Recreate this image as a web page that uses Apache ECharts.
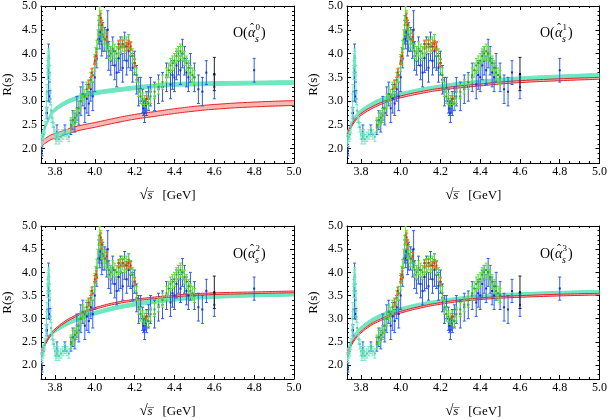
<!DOCTYPE html>
<html>
<head>
<meta charset="utf-8">
<script src="https://cdn.jsdelivr.net/npm/echarts@6/dist/echarts.min.js"></script>
<style>
  html, body { margin: 0; background: #fff; }
  #chart { width: 610px; height: 420px; }
</style>
</head>
<body>
<div id="chart"></div>
<script>
// measured R(s) points: x = sqrt(s) [GeV], y = R, err = half error bar
var blueX = [3.735, 3.760, 3.768, 3.775, 3.810, 3.850, 3.880, 3.890, 3.900, 3.910, 3.920, 3.930, 3.940, 3.950, 3.960, 3.970, 3.980, 3.990,
  4.000, 4.010, 4.020, 4.025, 4.030, 4.035, 4.040, 4.050, 4.060, 4.065, 4.070, 4.080, 4.090, 4.100, 4.110, 4.120, 4.130, 4.140,
  4.150, 4.160, 4.170, 4.180, 4.190, 4.200, 4.210, 4.220, 4.230, 4.240, 4.245, 4.250, 4.255, 4.260, 4.270, 4.280, 4.300, 4.320,
  4.340, 4.360, 4.380, 4.390, 4.400, 4.410, 4.420, 4.430, 4.440, 4.450, 4.460, 4.470, 4.480, 4.500, 4.520, 4.540, 4.560, 4.600, 4.800];
var blueY = [1.95, 2.75, 3.6, 3.1, 2.35, 2.4, 2.45, 2.6, 2.55, 2.85, 2.75, 3.0, 3.15, 2.85, 3.05, 2.95, 3.25, 3.1,
  3.5, 3.9, 4.45, 4.3, 4.45, 4.2, 4.35, 4.3, 4.2, 4.5, 3.95, 3.85, 4.05, 3.75, 3.6, 3.9, 4.0, 3.7,
  4.15, 3.85, 4.05, 3.95, 3.7, 3.8, 3.45, 3.2, 3.25, 3.0, 2.85, 2.75, 2.9, 2.95, 3.05, 3.2, 3.1, 3.25,
  3.3, 3.5, 3.35, 3.55, 3.5, 3.75, 3.85, 3.65, 4.0, 3.85, 3.6, 3.5, 3.7, 3.5, 3.25, 3.2, 3.6, 3.3, 3.65];
var blueErr = [0.1, 0.12, 0.6, 0.12, 0.15, 0.1, 0.15, 0.2, 0.2, 0.25, 0.25, 0.3, 0.25, 0.3, 0.3, 0.25, 0.25, 0.3,
  0.3, 0.2, 0.25, 0.2, 0.2, 0.25, 0.3, 0.25, 0.3, 0.4, 0.3, 0.3, 0.3, 0.3, 0.3, 0.3, 0.35, 0.3,
  0.3, 0.3, 0.35, 0.3, 0.3, 0.25, 0.3, 0.3, 0.25, 0.25, 0.15, 0.2, 0.15, 0.25, 0.25, 0.3, 0.3, 0.3,
  0.3, 0.3, 0.3, 0.3, 0.3, 0.3, 0.3, 0.3, 0.3, 0.3, 0.3, 0.3, 0.3, 0.3, 0.3, 0.3, 0.25, 0.25, 0.25];

var greenX = [3.880, 3.890, 3.900, 3.910, 3.920, 3.930, 3.940, 3.950, 3.960, 3.970, 3.980, 3.990,
  4.000, 4.005, 4.010, 4.015, 4.020, 4.025, 4.030, 4.035, 4.040,
  4.050, 4.060, 4.070, 4.080, 4.090, 4.100, 4.110, 4.120, 4.130, 4.140, 4.150, 4.160, 4.170, 4.180, 4.190, 4.200,
  4.210, 4.220, 4.230, 4.240, 4.250, 4.260, 4.270, 4.280,
  4.300, 4.320, 4.340, 4.360,
  4.370, 4.380, 4.390, 4.400, 4.410, 4.420, 4.430, 4.440, 4.450, 4.460, 4.470, 4.480, 4.490, 4.500];
var greenY = [2.5, 2.6, 2.65, 2.7, 2.85, 3.0, 3.15, 3.1, 3.25, 3.3, 3.45, 3.55,
  3.8, 3.95, 4.1, 4.3, 4.6, 4.8, 4.7, 4.5, 4.4,
  4.3, 4.25, 4.05, 4.0, 4.1, 4.05, 4.0, 4.1, 4.15, 4.2, 4.15, 4.2, 4.25, 4.1, 3.95, 3.75,
  3.55, 3.25, 3.1, 3.05, 3.0, 3.05, 2.95, 3.1,
  3.2, 3.3, 3.4, 3.55,
  3.65, 3.75, 3.8, 3.85, 3.95, 4.0, 4.05, 4.0, 3.9, 3.8, 3.7, 3.6, 3.55, 3.5];
var greenErr = [0.15, 0.15, 0.15, 0.15, 0.15, 0.15, 0.15, 0.15, 0.15, 0.15, 0.15, 0.15,
  0.18, 0.18, 0.18, 0.2, 0.2, 0.2, 0.2, 0.2, 0.2,
  0.18, 0.18, 0.15, 0.15, 0.15, 0.15, 0.15, 0.15, 0.15, 0.15, 0.15, 0.15, 0.15, 0.15, 0.15, 0.15,
  0.15, 0.15, 0.15, 0.12, 0.12, 0.12, 0.12, 0.15,
  0.15, 0.15, 0.15, 0.15,
  0.15, 0.15, 0.15, 0.15, 0.15, 0.15, 0.15, 0.15, 0.15, 0.15, 0.15, 0.15, 0.15, 0.15];

var orangeX = [3.970, 3.985, 4.000, 4.008, 4.030, 4.035, 4.060, 4.120, 4.140, 4.160, 4.170, 4.180, 4.200, 4.260];
var orangeY = [3.35, 3.6, 3.85, 3.95, 4.75, 4.6, 4.35, 4.2, 4.2, 4.15, 4.2, 4.15, 3.8, 3.05];
var orangeErr = [0.08, 0.08, 0.08, 0.08, 0.1, 0.1, 0.08, 0.08, 0.08, 0.08, 0.08, 0.08, 0.08, 0.06];

var cyanX = [3.730, 3.735, 3.740, 3.745, 3.750, 3.755, 3.758, 3.760, 3.763, 3.764, 3.766, 3.767, 3.769, 3.770, 3.772,
  3.774, 3.775, 3.778, 3.781, 3.785, 3.790, 3.795, 3.800, 3.805, 3.810, 3.815, 3.820, 3.830, 3.840, 3.850, 3.860, 3.870];
var cyanY = [2.15, 2.2, 2.25, 2.3, 2.45, 2.75, 3.0, 3.2, 3.6, 3.7, 3.85, 3.9, 3.95, 3.9, 3.75,
  3.6, 3.4, 3.05, 2.8, 2.65, 2.55, 2.45, 2.3, 2.2, 2.25, 2.3, 2.2, 2.25, 2.3, 2.35, 2.3, 2.25];
var cyanErr = [0.1, 0.1, 0.1, 0.1, 0.12, 0.12, 0.15, 0.15, 0.15, 0.15, 0.15, 0.15, 0.15, 0.15, 0.15,
  0.15, 0.15, 0.12, 0.12, 0.1, 0.1, 0.1, 0.1, 0.1, 0.1, 0.1, 0.1, 0.1, 0.1, 0.1, 0.1, 0.1];

var blackX = [4.600];
var blackY = [3.57];
var blackErr = [0.35];

// theory bands, one per order of alpha_s (center values, half widths)
var curveX = [3.73, 3.74, 3.76, 3.78, 3.80, 3.85, 3.90, 3.95, 4.00, 4.10, 4.20, 4.30, 4.40, 4.50, 4.60, 4.80, 5.00];
var redMid = [
  [2.09, 2.13, 2.19, 2.24, 2.27, 2.34, 2.41, 2.46, 2.50, 2.59, 2.67, 2.73, 2.79, 2.84, 2.88, 2.93, 2.96],
  [2.28, 2.38, 2.53, 2.64, 2.72, 2.85, 2.95, 3.03, 3.09, 3.18, 3.25, 3.30, 3.34, 3.38, 3.41, 3.45, 3.48],
  [2.25, 2.35, 2.52, 2.66, 2.76, 2.93, 3.05, 3.15, 3.22, 3.33, 3.40, 3.45, 3.49, 3.52, 3.54, 3.56, 3.58],
  [2.25, 2.34, 2.50, 2.62, 2.71, 2.87, 2.98, 3.07, 3.14, 3.25, 3.33, 3.39, 3.43, 3.46, 3.48, 3.51, 3.53]
];
var redHalf = [0.05, 0.02, 0.018, 0.018];
var cyanMid = [
  [2.22, 2.35, 2.55, 2.72, 2.82, 2.96, 3.05, 3.12, 3.17, 3.23, 3.28, 3.32, 3.35, 3.36, 3.37, 3.38, 3.39],
  [2.30, 2.40, 2.58, 2.70, 2.78, 2.92, 3.02, 3.09, 3.14, 3.23, 3.30, 3.36, 3.40, 3.44, 3.47, 3.51, 3.54],
  [2.28, 2.38, 2.55, 2.66, 2.74, 2.87, 2.97, 3.05, 3.12, 3.23, 3.31, 3.37, 3.42, 3.46, 3.48, 3.51, 3.53],
  [2.28, 2.38, 2.58, 2.70, 2.79, 2.95, 3.06, 3.14, 3.20, 3.30, 3.37, 3.43, 3.47, 3.50, 3.52, 3.55, 3.57]
];
var cyanHalf = [0.04, 0.04, 0.04, 0.04];
var orders = ['0', '1', '2', '3'];

var serif = 'Liberation Serif';
var grids = [
  { left: 40, top: 5, width: 254, height: 158 },
  { left: 347, top: 5, width: 255, height: 158 },
  { left: 40, top: 226, width: 254, height: 158 },
  { left: 347, top: 226, width: 255, height: 158 }
];

function errorSeries(p, xs, ys, es, color, dot, z) {
  var rows = xs.map(function (x, i) { return [x, ys[i], es[i]]; });
  return {
    type: 'custom', xAxisIndex: 2 * p, yAxisIndex: 2 * p, z: z, silent: true,
    data: rows,
    renderItem: function (params, api) {
      var c = api.coord([api.value(0), api.value(1)]);
      var t = api.coord([api.value(0), api.value(1) + api.value(2)]);
      var b = api.coord([api.value(0), api.value(1) - api.value(2)]);
      var cs = params.coordSys;
      var st = { stroke: color, lineWidth: 1 };
      return {
        type: 'group',
        clipPath: { type: 'rect', shape: { x: cs.x, y: cs.y, width: cs.width, height: cs.height } },
        children: [
          { type: 'line', shape: { x1: c[0], y1: t[1], x2: c[0], y2: b[1] }, style: st },
          { type: 'line', shape: { x1: c[0] - 1.5, y1: t[1], x2: c[0] + 1.5, y2: t[1] }, style: st },
          { type: 'line', shape: { x1: c[0] - 1.5, y1: b[1], x2: c[0] + 1.5, y2: b[1] }, style: st },
          { type: 'rect', shape: { x: c[0] - 1, y: c[1] - 1, width: 2, height: 2 }, style: { fill: dot } }
        ]
      };
    }
  };
}

// filled band between mid-half and mid+half, plus its two edge lines
function bandSeries(p, mid, half, edge, fill, z) {
  var lower = curveX.map(function (x, i) { return [x, mid[i] - half]; });
  var upper = curveX.map(function (x, i) { return [x, mid[i] + half]; });
  var fillSeries = {
    type: 'custom', xAxisIndex: 2 * p, yAxisIndex: 2 * p, z: z, silent: true,
    data: [[curveX[0], mid[0]]],
    renderItem: function (params, api) {
      var pts = upper.map(function (d) { return api.coord(d); });
      var low = lower.map(function (d) { return api.coord(d); }).reverse();
      var cs = params.coordSys;
      return {
        type: 'polygon',
        clipPath: { type: 'rect', shape: { x: cs.x, y: cs.y, width: cs.width, height: cs.height } },
        shape: { points: pts.concat(low), smooth: 0.25 },
        style: { fill: fill }
      };
    }
  };
  var common = {
    type: 'line', xAxisIndex: 2 * p, yAxisIndex: 2 * p, smooth: true,
    showSymbol: false, silent: true, z: z, lineStyle: { color: edge, width: 1 }
  };
  return [
    fillSeries,
    Object.assign({}, common, { data: lower }),
    Object.assign({}, common, { data: upper })
  ];
}

var xAxis = [], yAxis = [], series = [], graphic = [];

grids.forEach(function (g, p) {
  xAxis.push({
    type: 'value', gridIndex: p, min: 3.73, max: 5.0, splitNumber: 6, position: 'bottom',
    axisLine: { onZero: false, lineStyle: { color: '#000', width: 1 } },
    axisTick: { inside: true, length: 4, lineStyle: { color: '#000' } },
    minorTick: { show: true, splitNumber: 4, length: 2, lineStyle: { color: '#000' } },
    splitLine: { show: false },
    axisLabel: { showMinLabel: false, color: '#000', fontFamily: serif, fontSize: 12, margin: 3,
      formatter: function (v) { return v.toFixed(1); } },
    name: '{sq|√}{s|s\u0305}   [GeV]', nameLocation: 'middle', nameGap: 25,
    nameTextStyle: { color: '#000', fontFamily: serif, fontSize: 13,
      rich: { sq: { fontFamily: serif, fontSize: 15 }, s: { fontFamily: serif, fontStyle: 'italic', fontSize: 13 } } }
  });
  xAxis.push({
    type: 'value', gridIndex: p, min: 3.73, max: 5.0, splitNumber: 6, position: 'top',
    axisLine: { onZero: false, lineStyle: { color: '#000', width: 1 } },
    axisTick: { inside: true, length: 4, lineStyle: { color: '#000' } },
    minorTick: { show: true, splitNumber: 4, length: 2, lineStyle: { color: '#000' } },
    splitLine: { show: false }, axisLabel: { show: false }
  });
  yAxis.push({
    type: 'value', gridIndex: p, min: 1.7, max: 5.0, splitNumber: 7, position: 'left',
    axisLine: { onZero: false, lineStyle: { color: '#000', width: 1 } },
    axisTick: { inside: true, length: 4, lineStyle: { color: '#000' } },
    minorTick: { show: true, splitNumber: 5, length: 2, lineStyle: { color: '#000' } },
    splitLine: { show: false },
    axisLabel: { showMinLabel: false, color: '#000', fontFamily: serif, fontSize: 12, margin: 4,
      formatter: function (v) { return v.toFixed(1); } },
    name: 'R(s)', nameLocation: 'middle', nameGap: 27,
    nameTextStyle: { color: '#000', fontFamily: serif, fontSize: 13 }
  });
  yAxis.push({
    type: 'value', gridIndex: p, min: 1.7, max: 5.0, splitNumber: 7, position: 'right',
    axisLine: { onZero: false, lineStyle: { color: '#000', width: 1 } },
    axisTick: { inside: true, length: 4, lineStyle: { color: '#000' } },
    minorTick: { show: true, splitNumber: 5, length: 2, lineStyle: { color: '#000' } },
    splitLine: { show: false }, axisLabel: { show: false }
  });

  series = series.concat(bandSeries(p, cyanMid[p], cyanHalf[p], '#6be6bd', '#6de8bf', 1));
  series = series.concat(bandSeries(p, redMid[p], redHalf[p], '#e3242b', '#f7b8b3', 2));
  series.push(errorSeries(p, blueX, blueY, blueErr, '#2f5cf0', '#1a2fb8', 3));
  series.push(errorSeries(p, cyanX, cyanY, cyanErr, '#74e8c6', '#4fcfa8', 4));
  series.push(errorSeries(p, greenX, greenY, greenErr, '#5ee23a', '#2fa81c', 5));
  series.push(errorSeries(p, orangeX, orangeY, orangeErr, '#f0661e', '#c8400c', 6));
  series.push(errorSeries(p, blackX, blackY, blackErr, '#222', '#000', 7));

  graphic.push({
    type: 'group', x: g.left + 193, y: g.top + 21, z: 100, silent: true,
    children: [
      { type: 'text', x: 0, y: 0, z: 100, style: { text: 'O(', fontFamily: serif, fontSize: 14, fill: '#000' } },
      { type: 'text', x: 15, y: 0, z: 100, style: { text: 'α', fontFamily: serif, fontStyle: 'italic', fontSize: 14, fill: '#000' } },
      { type: 'text', x: 17, y: -3, z: 100, style: { text: '\u02c6', fontFamily: serif, fontSize: 12, fill: '#000' } },
      { type: 'text', x: 22.5, y: -3, z: 100, style: { text: orders[p], fontFamily: serif, fontSize: 9, fill: '#000' } },
      { type: 'text', x: 22, y: 8, z: 100, style: { text: 's', fontFamily: serif, fontStyle: 'italic', fontSize: 10, fill: '#000' } },
      { type: 'text', x: 28, y: 0, z: 100, style: { text: ')', fontFamily: serif, fontSize: 14, fill: '#000' } }
    ]
  });
});

var chart = echarts.init(document.getElementById('chart'));
chart.setOption({
  animation: false,
  backgroundColor: '#fff',
  grid: grids,
  xAxis: xAxis,
  yAxis: yAxis,
  series: series,
  graphic: graphic
});
</script>
</body>
</html>
